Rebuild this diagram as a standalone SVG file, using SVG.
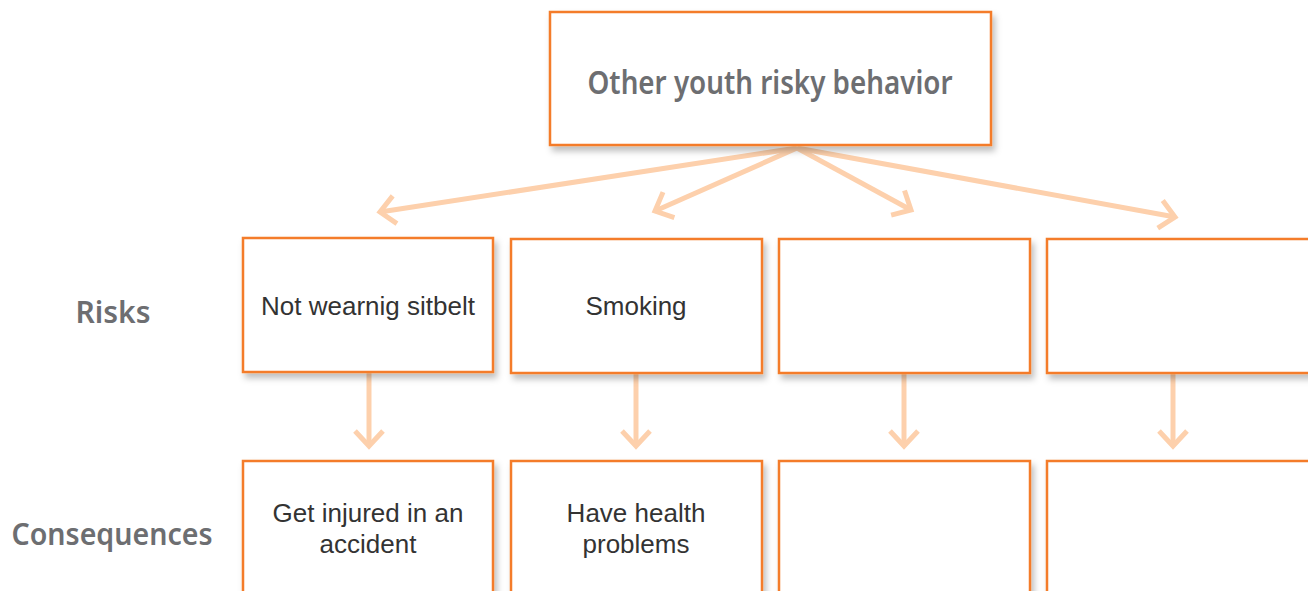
<svg xmlns="http://www.w3.org/2000/svg" width="1308" height="591" viewBox="0 0 1308 591">
<style>
.box{fill:#fff;stroke:#F47B2B;stroke-width:2.5;filter:url(#sh)}
.lbl{font-family:"Liberation Sans",Arial,sans-serif;font-size:26px;fill:#333;text-anchor:middle}
.hand{font-family:"Noto Sans","DejaVu Sans",sans-serif;font-weight:600;fill:#6D6E71}
.con{stroke:#FDD0AC;stroke-width:5;fill:none;marker-end:url(#ah)}
</style>
<defs>
<filter id="sh" x="-10%" y="-10%" width="130%" height="140%">
<feDropShadow dx="3" dy="5" stdDeviation="3" flood-color="#000" flood-opacity="0.25"/>
</filter>
<marker id="ah" markerUnits="userSpaceOnUse" viewBox="-20 -20 30 40" markerWidth="30" markerHeight="40" refX="0" refY="0" orient="auto">
<path d="M-15,-14 L0,0 L-15,14" fill="none" stroke="#FDD0AC" stroke-width="5"/>
</marker>
</defs>
<g id="connectors">
<line class="con" x1="797" y1="148" x2="380" y2="212"/>
<line class="con" x1="797" y1="148" x2="655" y2="211"/>
<line class="con" x1="797" y1="148" x2="911" y2="210"/>
<line class="con" x1="797" y1="148" x2="1175" y2="217"/>
<line class="con" x1="369" y1="373" x2="369" y2="446"/>
<line class="con" x1="636" y1="374" x2="636" y2="446"/>
<line class="con" x1="904" y1="374" x2="904" y2="446"/>
<line class="con" x1="1173" y1="374" x2="1173" y2="446"/>
</g>
<g id="top">
<rect class="box" x="550" y="12" width="441" height="133"/>
<text class="hand" x="770" y="94" font-size="33" text-anchor="middle" textLength="365" lengthAdjust="spacingAndGlyphs">Other youth risky behavior</text>
</g>
<g id="row-labels">
<text class="hand" x="113" y="323" font-size="30" text-anchor="middle">Risks</text>
<text class="hand" x="112" y="545" font-size="30" text-anchor="middle" textLength="201" lengthAdjust="spacingAndGlyphs">Consequences</text>
</g>
<g id="risk1"><rect class="box" x="243" y="238" width="250" height="134"/><text class="lbl" x="368" y="315">Not wearnig sitbelt</text></g>
<g id="risk2"><rect class="box" x="511" y="239" width="251" height="134"/><text class="lbl" x="636" y="315">Smoking</text></g>
<g id="risk3"><rect class="box" x="779" y="239" width="251" height="134"/></g>
<g id="risk4"><rect class="box" x="1047" y="239" width="275" height="134"/></g>
<g id="cons1"><rect class="box" x="243" y="461" width="250" height="150"/><text class="lbl" x="368" y="522">Get injured in an</text><text class="lbl" x="368" y="553">accident</text></g>
<g id="cons2"><rect class="box" x="511" y="461" width="251" height="150"/><text class="lbl" x="636" y="522">Have health</text><text class="lbl" x="636" y="553">problems</text></g>
<g id="cons3"><rect class="box" x="779" y="461" width="251" height="150"/></g>
<g id="cons4"><rect class="box" x="1047" y="461" width="275" height="150"/></g>
</svg>
